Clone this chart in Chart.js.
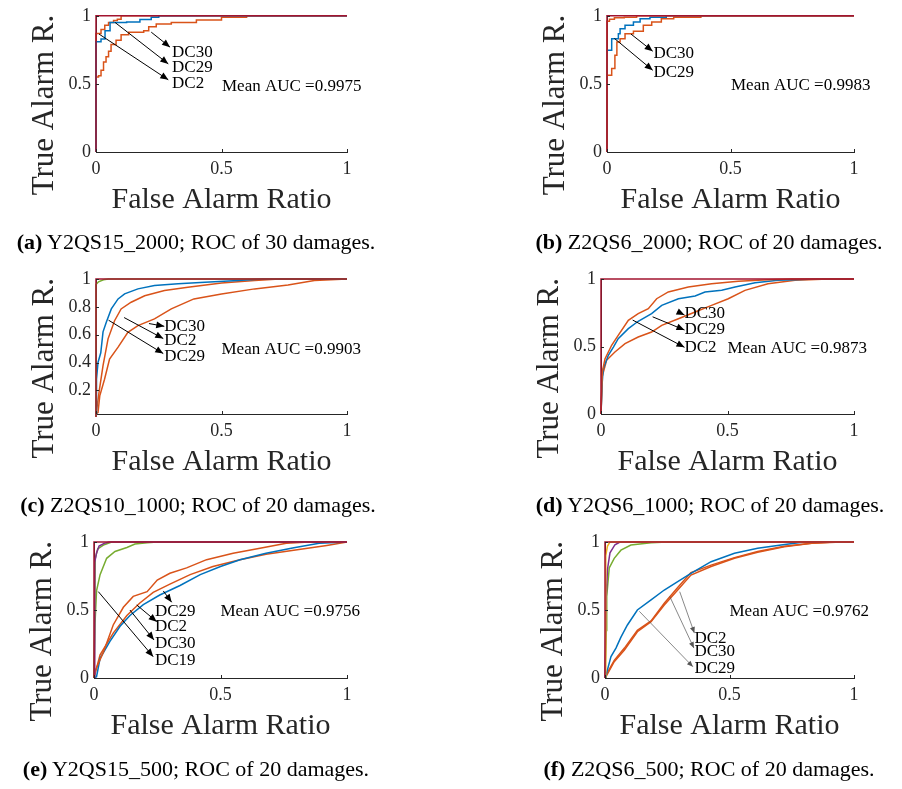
<!DOCTYPE html>
<html>
<head>
<meta charset="utf-8">
<script src="https://cdn.jsdelivr.net/npm/chart.js@4/dist/chart.umd.min.js"></script>
<style>
body { margin: 0; background: #fff; width: 902px; height: 789px; position: relative; overflow: hidden; font-family: 'Liberation Serif', serif; }
canvas { position: absolute; }
.cap { position: absolute; width: 420px; text-align: center; font-size: 22px; line-height: 24px; color: #000; white-space: nowrap; }
</style>
</head>
<body>
<canvas id="pa" width="451" height="262" style="left:0;top:0"></canvas>
<canvas id="pb" width="451" height="262" style="left:451px;top:0"></canvas>
<canvas id="pc" width="451" height="263" style="left:0;top:262px"></canvas>
<canvas id="pd" width="451" height="263" style="left:451px;top:262px"></canvas>
<canvas id="pe" width="451" height="264" style="left:0;top:525px"></canvas>
<canvas id="pf" width="451" height="264" style="left:451px;top:525px"></canvas>

<div class="cap" style="left:-14px;top:230px"><b>(a)</b> Y2QS15_2000; ROC of 30 damages.</div>
<div class="cap" style="left:499px;top:230px"><b>(b)</b> Z2QS6_2000; ROC of 20 damages.</div>
<div class="cap" style="left:-12px;top:493px"><b>(c)</b> Z2QS10_1000; ROC of 20 damages.</div>
<div class="cap" style="left:500px;top:493px"><b>(d)</b> Y2QS6_1000; ROC of 20 damages.</div>
<div class="cap" style="left:-14px;top:757px"><b>(e)</b> Y2QS15_500; ROC of 20 damages.</div>
<div class="cap" style="left:499px;top:757px"><b>(f)</b> Z2QS6_500; ROC of 20 damages.</div>

<script>
// tick values
const xTicks = [0, 0.5, 1];
const yTicks = [0, 0.5, 1];
const yTicksC = [0.2, 0.4, 0.6, 0.8, 1];

// curves with AUC ~ 1 (shared by every panel)
const perfect = [[0, 0], [0, 1], [1, 1]];

// (a) Y2QS15_2000
const aBlue = [[0, 0], [0, 0.55], [0, 0.81], [0.02, 0.83], [0.036, 0.89], [0.056, 0.95], [0.122, 0.955], [0.175, 0.973], [0.22, 0.99], [0.25, 1], [1, 1]];
const aOrangeLow = [[0, 0], [0, 0.55], [0.01, 0.56], [0.02, 0.6], [0.03, 0.66], [0.04, 0.7], [0.05, 0.74], [0.06, 0.79], [0.08, 0.82], [0.1, 0.86], [0.13, 0.88], [0.19, 0.89], [0.21, 0.92], [0.24, 0.94], [0.3, 0.95], [0.4, 0.97], [0.5, 0.99], [0.6, 1], [1, 1]];
const aOrangeHigh = [[0, 0], [0, 0.87], [0.02, 0.9], [0.035, 0.93], [0.05, 0.95], [0.07, 0.965], [0.085, 0.975], [0.1, 1], [1, 1]];

// (b) Z2QS6_2000
const bBlue = [[0, 0], [0, 0.747], [0.019, 0.832], [0.046, 0.869], [0.053, 0.905], [0.073, 0.93], [0.107, 0.954], [0.134, 0.978], [0.174, 0.99], [0.24, 1], [1, 1]];
const bOrangeLow = [[0, 0], [0, 0.564], [0.019, 0.613], [0.032, 0.71], [0.04, 0.808], [0.053, 0.832], [0.073, 0.869], [0.107, 0.886], [0.147, 0.93], [0.181, 0.954], [0.22, 0.978], [0.27, 0.99], [0.38, 1], [1, 1]];
const bOrangeHigh = [[0, 0], [0, 0.96], [0.01, 0.975], [0.03, 0.985], [0.07, 0.99], [0.12, 1], [1, 1]];

// (c) Z2QS10_1000
const cBlue = [[0, 0.03], [0.001, 0.09], [0.003, 0.28], [0.008, 0.4], [0.019, 0.47], [0.028, 0.62], [0.041, 0.69], [0.061, 0.785], [0.088, 0.857], [0.114, 0.893], [0.167, 0.929], [0.233, 0.953], [0.327, 0.965], [0.434, 0.977], [0.566, 0.989], [0.66, 1], [1, 1]];
const cOrangeMid = [[0, 0.03], [0.005, 0.09], [0.014, 0.21], [0.028, 0.378], [0.048, 0.57], [0.074, 0.7], [0.1, 0.785], [0.14, 0.833], [0.194, 0.88], [0.273, 0.917], [0.366, 0.94], [0.5, 0.972], [0.632, 0.989], [0.73, 1], [1, 1]];
const cOrangeLow = [[0, 0.03], [0.008, 0.04], [0.015, 0.16], [0.034, 0.28], [0.054, 0.425], [0.088, 0.51], [0.127, 0.617], [0.167, 0.665], [0.233, 0.713], [0.3, 0.785], [0.39, 0.857], [0.5, 0.893], [0.632, 0.929], [0.765, 0.957], [0.87, 0.989], [1, 1]];
const cGreen = [[0, 0], [0, 0.96], [0.01, 0.98], [0.03, 0.995], [0.05, 1], [1, 1]];

// (d) Y2QS6_1000
const dBlue = [[0, 0], [0.005, 0.237], [0.009, 0.336], [0.029, 0.435], [0.049, 0.496], [0.068, 0.558], [0.108, 0.632], [0.147, 0.687], [0.2, 0.743], [0.24, 0.805], [0.306, 0.854], [0.372, 0.874], [0.411, 0.904], [0.477, 0.916], [0.53, 0.94], [0.609, 0.973], [0.7, 0.99], [0.85, 1], [1, 1]];
const dOrangeHigh = [[0, 0], [0.005, 0.31], [0.016, 0.41], [0.042, 0.509], [0.068, 0.583], [0.108, 0.694], [0.147, 0.743], [0.187, 0.78], [0.22, 0.854], [0.266, 0.904], [0.345, 0.94], [0.437, 0.965], [0.543, 0.983], [0.66, 0.995], [0.75, 1], [1, 1]];
const dOrangeLow = [[0, 0], [0.005, 0.28], [0.022, 0.398], [0.055, 0.459], [0.095, 0.521], [0.147, 0.57], [0.2, 0.607], [0.24, 0.657], [0.306, 0.706], [0.372, 0.756], [0.437, 0.805], [0.503, 0.854], [0.569, 0.916], [0.66, 0.965], [0.767, 0.99], [0.9, 1], [1, 1]];

// (e) Y2QS15_500
const eBlue = [[0, 0], [0.01, 0.01], [0.024, 0.145], [0.063, 0.27], [0.103, 0.38], [0.142, 0.46], [0.195, 0.54], [0.26, 0.61], [0.34, 0.68], [0.42, 0.76], [0.5, 0.82], [0.577, 0.87], [0.68, 0.917], [0.79, 0.958], [0.89, 0.99], [1, 1]];
const eOrangeHigh = [[0, 0], [0.004, 0.05], [0.037, 0.19], [0.076, 0.39], [0.116, 0.52], [0.155, 0.6], [0.21, 0.635], [0.25, 0.72], [0.3, 0.77], [0.366, 0.81], [0.445, 0.87], [0.55, 0.917], [0.656, 0.954], [0.76, 0.99], [0.85, 1], [1, 1]];
const eOrangeLow = [[0, 0], [0.024, 0.17], [0.076, 0.33], [0.13, 0.46], [0.18, 0.55], [0.234, 0.63], [0.3, 0.69], [0.38, 0.76], [0.47, 0.82], [0.577, 0.87], [0.68, 0.91], [0.81, 0.945], [0.92, 0.975], [1, 1]];
const eGreen = [[0, 0], [0.004, 0.4], [0.01, 0.64], [0.024, 0.76], [0.05, 0.88], [0.083, 0.93], [0.13, 0.96], [0.162, 0.985], [0.21, 0.995], [0.25, 1], [1, 1]];
const eGreen2 = [[0, 0], [0.005, 0.88], [0.015, 0.95], [0.04, 0.98], [0.07, 1], [1, 1]];
const ePurple = [[0, 0], [0.003, 0.85], [0.01, 0.92], [0.02, 0.97], [0.04, 0.99], [0.06, 1], [1, 1]];

// (f) Z2QS6_500
const fBlue = [[0, 0], [0.004, 0.02], [0.024, 0.157], [0.044, 0.22], [0.064, 0.3], [0.09, 0.39], [0.13, 0.5], [0.185, 0.574], [0.238, 0.647], [0.292, 0.708], [0.345, 0.77], [0.426, 0.855], [0.52, 0.917], [0.613, 0.954], [0.707, 0.978], [0.8, 1], [1, 1]];
const fOrangeA = [[0, 0], [0.004, 0.01], [0.037, 0.12], [0.078, 0.206], [0.13, 0.34], [0.185, 0.414], [0.238, 0.537], [0.292, 0.647], [0.345, 0.757], [0.426, 0.82], [0.52, 0.88], [0.613, 0.924], [0.72, 0.965], [0.83, 0.99], [0.92, 1], [1, 1]];
const fOrangeB = [[0, 0], [0.004, 0.02], [0.037, 0.13], [0.078, 0.22], [0.13, 0.35], [0.185, 0.42], [0.238, 0.55], [0.292, 0.665], [0.345, 0.775], [0.426, 0.83], [0.52, 0.885], [0.613, 0.93], [0.72, 0.968], [0.83, 0.99], [0.95, 1], [1, 1]];
const fGreen = [[0, 0], [0.005, 0.35], [0.007, 0.6], [0.017, 0.81], [0.037, 0.88], [0.064, 0.94], [0.104, 0.978], [0.185, 0.995], [0.25, 1], [1, 1]];
const fPurple = [[0, 0], [0.005, 0.6], [0.01, 0.8], [0.02, 0.92], [0.04, 0.98], [0.06, 1], [1, 1]];
const fYellow = [[0, 0], [0.003, 0.9], [0.01, 0.97], [0.02, 1], [1, 1]];

// mean AUC per panel
const meanAuc = ['0.9975', '0.9983', '0.9903', '0.9873', '0.9756', '0.9762'];

const BLUE = '#0072BD', ORANGE = '#D95319', YELLOW = '#EDB120', PURPLE = '#7E2F8E', GREEN = '#77AC30', RED = '#A2142F';
const AXIS = '#262626';
const FONT = "'Liberation Serif', serif";

// label annotations: arrow [x1, y1, x2, y2] in data units, text anchored at [x, y]
const notes = {
    pa: { arrows: [[0.22, 0.88, 0.295, 0.77], [0.076, 0.951, 0.288, 0.647], [0.012, 0.866, 0.288, 0.53]],
          names: ['DC30', 'DC29', 'DC2'], at: [[0.303, 0.728], [0.303, 0.623], [0.303, 0.5]], auc: [0.502, 0.48] },
    pb: { arrows: [[0.097, 0.866, 0.185, 0.74], [0.03, 0.834, 0.185, 0.6]],
          names: ['DC30', 'DC29'], at: [[0.188, 0.72], [0.188, 0.586]], auc: [0.502, 0.489] },
    pc: { arrows: [[0.211, 0.68, 0.272, 0.66], [0.112, 0.723, 0.268, 0.572], [0.05, 0.704, 0.268, 0.464]],
          names: ['DC30', 'DC2', 'DC29'], at: [[0.272, 0.655], [0.272, 0.56], [0.272, 0.44]], auc: [0.5, 0.493] },
    pd: { arrows: [[0.303, 0.758, 0.33, 0.733], [0.204, 0.72, 0.33, 0.622], [0.125, 0.696, 0.33, 0.494]],
          names: ['DC30', 'DC29', 'DC2'], at: [[0.33, 0.746], [0.33, 0.622], [0.33, 0.494]], auc: [0.5, 0.487] },
    pe: { arrows: [[0.274, 0.64, 0.307, 0.557], [0.169, 0.537, 0.248, 0.414], [0.142, 0.5, 0.237, 0.28], [0.017, 0.635, 0.234, 0.157]],
          names: ['DC29', 'DC2', 'DC30', 'DC19'], at: [[0.241, 0.49], [0.241, 0.377], [0.241, 0.255], [0.241, 0.125]], auc: [0.5, 0.49] },
    pf: { arrows: [[0.3, 0.635, 0.359, 0.33], [0.26, 0.6, 0.357, 0.22], [0.138, 0.49, 0.353, 0.083]],
          names: ['DC2', 'DC30', 'DC29'], at: [[0.359, 0.29], [0.359, 0.193], [0.359, 0.07]], auc: [0.5, 0.49], thin: true },
};

function drawArrow(ctx, x1, y1, x2, y2, color, lw, head) {
    ctx.strokeStyle = color;
    ctx.fillStyle = color;
    ctx.lineWidth = lw;
    ctx.beginPath();
    ctx.moveTo(x1, y1);
    ctx.lineTo(x2, y2);
    ctx.stroke();
    const a = Math.atan2(y2 - y1, x2 - x1);
    const w = head * 0.42;
    ctx.beginPath();
    ctx.moveTo(x2, y2);
    ctx.lineTo(x2 - head * Math.cos(a) + w * Math.sin(a), y2 - head * Math.sin(a) - w * Math.cos(a));
    ctx.lineTo(x2 - head * Math.cos(a) - w * Math.sin(a), y2 - head * Math.sin(a) + w * Math.cos(a));
    ctx.closePath();
    ctx.fill();
}

const rocPlugin = {
    id: 'rocNotes',
    afterDatasetsDraw(chart) {
        const { ctx, chartArea: ca, scales: { x, y } } = chart;
        const n = notes[chart.canvas.id];
        ctx.save();

        // inward tick marks
        ctx.strokeStyle = AXIS;
        ctx.lineWidth = 1;
        x.ticks.forEach(t => {
            const px = Math.round(x.getPixelForValue(t.value)) + 0.5;
            ctx.beginPath(); ctx.moveTo(px, ca.bottom); ctx.lineTo(px, ca.bottom - 3); ctx.stroke();
        });
        y.ticks.forEach(t => {
            const py = Math.round(y.getPixelForValue(t.value)) + 0.5;
            ctx.beginPath(); ctx.moveTo(ca.left, py); ctx.lineTo(ca.left + 3, py); ctx.stroke();
        });

        // arrows and damage labels
        n.arrows.forEach(a => {
            drawArrow(ctx, x.getPixelForValue(a[0]), y.getPixelForValue(a[1]),
                x.getPixelForValue(a[2]), y.getPixelForValue(a[3]),
                n.thin ? '#555' : '#000', n.thin ? 0.7 : 1, n.thin ? 6 : 8);
        });
        ctx.fillStyle = '#000';
        ctx.font = '17px ' + FONT;
        ctx.textAlign = 'left';
        ctx.textBaseline = 'middle';
        n.names.forEach((s, i) => {
            ctx.fillText(s, x.getPixelForValue(n.at[i][0]), y.getPixelForValue(n.at[i][1]));
        });
        const idx = ['pa', 'pb', 'pc', 'pd', 'pe', 'pf'].indexOf(chart.canvas.id);
        ctx.fillText('Mean AUC =' + meanAuc[idx], x.getPixelForValue(n.auc[0]), y.getPixelForValue(n.auc[1]));

        // axis titles
        ctx.fillStyle = AXIS;
        ctx.font = '30px ' + FONT;
        ctx.textAlign = 'center';
        ctx.fillText('False Alarm Ratio', (ca.left + ca.right) / 2, ca.bottom + 48);
        ctx.translate(ca.left - 51, ca.top - 1);
        ctx.rotate(-Math.PI / 2);
        ctx.font = '31px ' + FONT;
        ctx.textAlign = 'right';
        ctx.fillText('True Alarm R.', 0, 0);
        ctx.restore();
    }
};

function line(points, color, stepped) {
    return {
        data: points.map(p => ({ x: p[0], y: p[1] })),
        borderColor: color,
        borderWidth: 1.5,
        pointRadius: 0,
        fill: false,
        tension: 0,
        stepped: stepped ? 'before' : false,
        clip: 3,
    };
}

function makePanel(id, area, series, yVals, yMin, stepped) {
    const canvas = document.getElementById(id);
    const W = canvas.width, H = canvas.height;
    const datasets = [line(perfect, RED, false)].concat(series.map(s => line(s[0], s[1], stepped)));
    new Chart(canvas, {
        type: 'line',
        data: { datasets },
        plugins: [rocPlugin],
        options: {
            responsive: false,
            animation: false,
            devicePixelRatio: 1,
            layout: { padding: { left: 0, top: area[1], right: W - area[2], bottom: 0 } },
            plugins: { legend: { display: false }, tooltip: { enabled: false } },
            scales: {
                x: {
                    type: 'linear', min: 0, max: 1,
                    afterBuildTicks: s => { s.ticks = xTicks.map(v => ({ value: v })); },
                    afterFit: s => { s.height = H - area[3]; },
                    ticks: { font: { family: FONT, size: 18 }, color: AXIS, padding: 6, maxRotation: 0, autoSkip: false, callback: v => String(v) },
                    grid: { display: false, drawTicks: false },
                    border: { display: true, color: AXIS, width: 1 },
                },
                y: {
                    type: 'linear', min: yMin, max: 1,
                    afterBuildTicks: s => { s.ticks = yVals.map(v => ({ value: v })); },
                    afterFit: s => { s.width = area[0]; },
                    ticks: { font: { family: FONT, size: 18 }, color: AXIS, padding: 5, autoSkip: false, callback: v => String(v) },
                    grid: { display: false, drawTicks: false },
                    border: { display: true, color: AXIS, width: 1 },
                },
            },
        },
    });
}

makePanel('pa', [96, 15, 347, 152], [[aBlue, BLUE], [aOrangeHigh, ORANGE], [aOrangeLow, ORANGE]], yTicks, 0, true);
makePanel('pb', [156, 15, 403, 152], [[bOrangeHigh, ORANGE], [bBlue, BLUE], [bOrangeLow, ORANGE]], yTicks, 0, true);
makePanel('pc', [96, 17, 347, 152], [[cGreen, GREEN], [cBlue, BLUE], [cOrangeMid, ORANGE], [cOrangeLow, ORANGE]], yTicksC, 0.03, false);
makePanel('pd', [150, 17, 403, 152], [[dOrangeHigh, ORANGE], [dBlue, BLUE], [dOrangeLow, ORANGE]], yTicks, 0, false);
makePanel('pe', [94, 17, 347, 153], [[ePurple, PURPLE], [eGreen2, GREEN], [eGreen, GREEN], [eOrangeHigh, ORANGE], [eBlue, BLUE], [eOrangeLow, ORANGE]], yTicks, 0, false);
makePanel('pf', [154, 17, 403, 153], [[fYellow, YELLOW], [fPurple, PURPLE], [fGreen, GREEN], [fBlue, BLUE], [fOrangeA, ORANGE], [fOrangeB, ORANGE]], yTicks, 0, false);
</script>
</body>
</html>
